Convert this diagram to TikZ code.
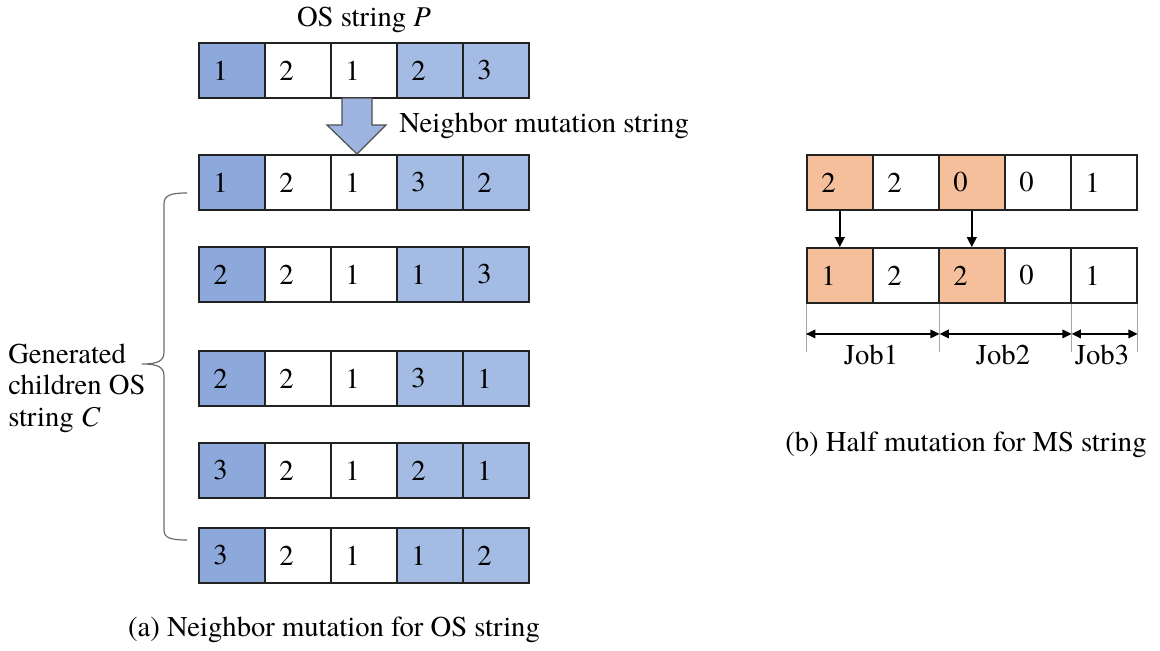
\documentclass[tikz,border=0pt]{standalone}
\usepackage{fontspec}
\setmainfont{texgyretermes}[Extension=.otf, UprightFont=*-regular, ItalicFont=*-italic, BoldFont=*-bold]
\usetikzlibrary{arrows.meta,calc}
\definecolor{bdark}{HTML}{8DA8DA}
\definecolor{blight}{HTML}{A4BBE3}
\definecolor{barrow}{HTML}{9DB5E0}
\definecolor{orng}{HTML}{F5BF9C}
\definecolor{edge}{HTML}{222222}
\newcommand{\fs}{\fontsize{21.5}{25}\selectfont}
\tikzset{
  cell/.style={draw=edge, line width=1.2pt, minimum width=49.5pt, minimum height=41.5pt,
    inner xsep=11pt, inner ysep=0pt, text width=27.5pt, align=left, anchor=north west, font=\fs},
  cellD/.style={cell, fill=bdark},
  cellL/.style={cell, fill=blight},
  cellW/.style={cell, fill=white},
  cellO/.style={cell, fill=orng},
  lbl/.style={font=\fs, inner sep=0pt},
  guide/.style={draw=gray!70, line width=0.6pt},
  bracestyle/.style={draw=gray!85!black, line width=0.9pt},
  dimarrow/.style={{Triangle[length=7pt,width=6.5pt]}-{Triangle[length=7pt,width=6.5pt]}, line width=1.1pt},
  downarrow/.style={-{Triangle[length=7.5pt,width=7.5pt]}, line width=1.1pt}
}
\begin{document}
\begin{tikzpicture}[x=0.75pt,y=-0.75pt]
\useasboundingbox (0,0) rectangle (1160,650);
% left rows
\foreach \r/\y/\a/\b/\c/\d/\e in {1/42/1/2/1/2/3, 2/154/1/2/1/3/2, 3/246/2/2/1/1/3, 4/350/2/2/1/3/1, 5/442/3/2/1/2/1, 6/527/3/2/1/1/2}{
  \node[cellD] (L\r-1) at (198,\y) {\a};
  \node[cellW] (L\r-2) at (264,\y) {\b};
  \node[cellW] (L\r-3) at (330,\y) {\c};
  \node[cellL] (L\r-4) at (396,\y) {\d};
  \node[cellL] (L\r-5) at (462,\y) {\e};
}
\node[lbl] (ostitle) at (364,20) {OS string \textit{P}};
% block arrow
\draw[fill=barrow, draw=edge!80, line width=0.9pt]
  (342,98) -- (372,98) -- (372,125) -- (386,125) -- (357,154) -- (327,125) -- (342,125) -- cycle;
\node[lbl, anchor=west] (nms) at (399,126) {Neighbor mutation string};
% brace
\coordinate (bt) at (187,193);
\coordinate (bb) at (187,540);
\coordinate (btip) at (142,364);
\draw[bracestyle] (bt) .. controls (171,193) and (164,195) .. (164,204) -- (164,352)
  .. controls (164,361) and (158,364) .. (btip)
  .. controls (158,364) and (164,367) .. (164,376) -- (164,530)
  .. controls (164,538) and (171,540) .. (bb);
\node[lbl, anchor=west, align=left, font=\fontsize{21.5}{23.5}\selectfont] (gen) at (8,388) {Generated\\children OS\\string \textit{C}};
\node[lbl] (capa) at (334,630) {(a) Neighbor mutation for OS string};
% right rows
\foreach \r/\y/\a/\b/\c/\d/\e in {1/154/2/2/0/0/1, 2/247/1/2/2/0/1}{
  \node[cellO] (R\r-1) at (806,\y) {\a};
  \node[cellW] (R\r-2) at (872,\y) {\b};
  \node[cellO] (R\r-3) at (938,\y) {\c};
  \node[cellW] (R\r-4) at (1004,\y) {\d};
  \node[cellW] (R\r-5) at (1070,\y) {\e};
}
\draw[downarrow] (R1-1.south) -- (R2-1.north);
\draw[downarrow] (R1-3.south) -- (R2-3.north);
% job dimension lines
\coordinate (g0) at (R2-1.south west);
\coordinate (g1) at (R2-2.south east);
\coordinate (g2) at (R2-4.south east);
\coordinate (g3) at (R2-5.south east);
\foreach \g in {g0,g1,g2,g3}{
  \coordinate (\g b) at ($(\g)+(0,48)$);
  \coordinate (\g m) at ($(\g)+(0,30)$);
  \draw[guide] (\g) -- (\g b);
}
\draw[dimarrow] (g0m) -- (g1m);
\draw[dimarrow] (g1m) -- (g2m);
\draw[dimarrow] (g2m) -- (g3m);
\node[lbl] (job1) at (871,355) {Job1};
\node[lbl] (job2) at (1003,355) {Job2};
\node[lbl] (job3) at (1102,355) {Job3};
\node[lbl] (capb) at (966,445) {(b) Half mutation for MS string};
\end{tikzpicture}
\end{document}
